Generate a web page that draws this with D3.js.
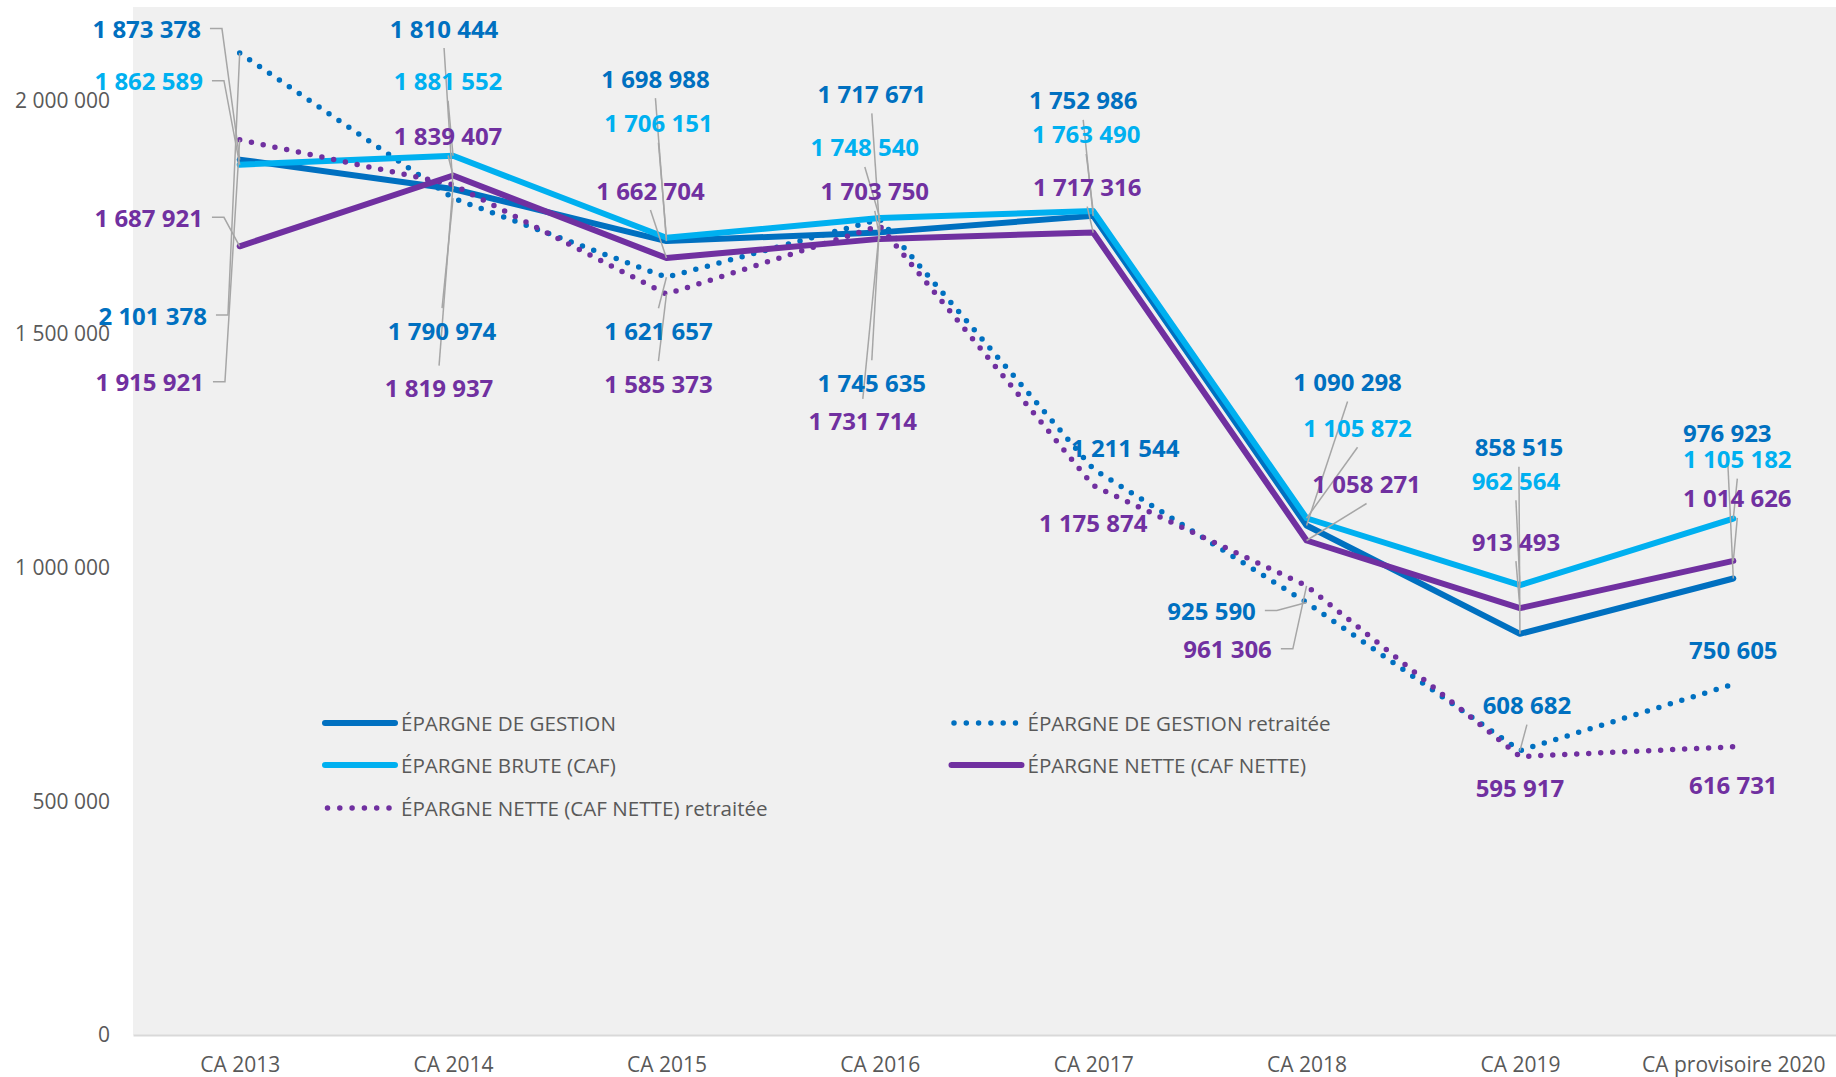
<!DOCTYPE html>
<html>
<head>
<meta charset="utf-8">
<script src="https://cdn.jsdelivr.net/npm/d3@7"></script>
<style>
  html, body { margin: 0; padding: 0; background: #ffffff; }
  svg { display: block; font-family: 'Open Sans', sans-serif; }
</style>
</head>
<body>
<script>
// ---------- DATA ----------
const categories = ["CA 2013", "CA 2014", "CA 2015", "CA 2016", "CA 2017", "CA 2018", "CA 2019", "CA provisoire 2020"];

const epargneGestion          = [1873378, 1810444, 1698988, 1717671, 1752986, 1090298, 858515, 976923];
const epargneGestionRetraitee = [2101378, 1790974, 1621657, 1745635, 1211544, 925590, 608682, 750605];
const epargneBrute            = [1862589, 1881552, 1706151, 1748540, 1763490, 1105872, 962564, 1105182];
const epargneNette            = [1687921, 1839407, 1662704, 1703750, 1717316, 1058271, 913493, 1014626];
const epargneNetteRetraitee   = [1915921, 1819937, 1585373, 1731714, 1175874, 961306, 595917, 616731];

const seriesNames = [
  "ÉPARGNE DE GESTION",
  "ÉPARGNE DE GESTION retraitée",
  "ÉPARGNE BRUTE (CAF)",
  "ÉPARGNE NETTE (CAF NETTE)",
  "ÉPARGNE NETTE (CAF NETTE) retraitée"
];

const yTicks = [0, 500000, 1000000, 1500000, 2000000];

// ---------- LABEL LAYOUT (pixel offsets of each data label from its point) ----------
const gestionLabelDx   = [-93, -9, -11, -8, -10, 41, -1, -6];
const gestionLabelDy   = [-131, -161, -163, -139, -116, -144, -187, -146];
const gestionRLabelDx  = [-87, -11, -8, -8, 32, -95, 7, 0];
const gestionRLabelDy  = [262, 132, 53, 163, -21, 8, -46, -35];
const bruteLabelDx     = [-91, -5, -8, -15, -7, 51, -4, 4];
const bruteLabelDy     = [-84, -75, -115, -71, -77, -91, -105, -60];
const netteLabelDx     = [-91, -5, -16, -5, -6, 60, -4, 4];
const netteLabelDy     = [-29, -40, -68, -48, -46, -57, -67, -63];
const netteRLabelDx    = [-90, -14, -8, -17, 0, -79, 0, 0];
const netteRLabelDy    = [242, 203, 89, 195, 37, 63, 31, 38];

// ---------- SETUP ----------
const W = 1836, H = 1077;
const plotLeft = 133, plotRight = 1840, plotTop = 7, plotBottom = 1035;

const fmt = d3.formatLocale({ decimal: ",", thousands: " ", grouping: [3], currency: ["", " €"] }).format(",d");

const series = [
  { name: seriesNames[0], values: epargneGestion,          color: "#0070C0", dotted: false, dx: gestionLabelDx,  dy: gestionLabelDy },
  { name: seriesNames[1], values: epargneGestionRetraitee, color: "#0070C0", dotted: true,  dx: gestionRLabelDx, dy: gestionRLabelDy },
  { name: seriesNames[2], values: epargneBrute,            color: "#00B0F0", dotted: false, dx: bruteLabelDx,    dy: bruteLabelDy },
  { name: seriesNames[3], values: epargneNette,            color: "#7030A0", dotted: false, dx: netteLabelDx,    dy: netteLabelDy },
  { name: seriesNames[4], values: epargneNetteRetraitee,   color: "#7030A0", dotted: true,  dx: netteRLabelDx,   dy: netteRLabelDy }
];

const svg = d3.select("body").append("svg").attr("width", W).attr("height", H);

const x = d3.scalePoint().domain(categories).range([plotLeft, plotRight]).padding(0.5);
const y = d3.scaleLinear().domain([0, 2200000]).range([plotBottom, plotTop]);

// plot area background
svg.append("rect")
  .attr("x", plotLeft).attr("y", y(2200000))
  .attr("width", plotRight - plotLeft).attr("height", y(0) - y(2200000))
  .attr("fill", "#f0f0f0");

// Y axis (labels only)
const yAxis = svg.append("g")
  .attr("transform", `translate(${plotLeft},0)`)
  .call(d3.axisLeft(y).tickValues(yTicks).tickFormat(fmt).tickSize(0).tickPadding(23));
yAxis.select(".domain").remove();
yAxis.selectAll("text")
  .attr("font-family", "'Open Sans', sans-serif")
  .attr("font-size", 21)
  .attr("fill", "#595959");

// X axis
const xAxis = svg.append("g")
  .attr("transform", `translate(0,${plotBottom})`)
  .call(d3.axisBottom(x).tickSize(0).tickSizeOuter(0).tickPadding(22));
xAxis.select(".domain").attr("stroke", "#d9d9d9").attr("stroke-width", 2);
xAxis.selectAll("text")
  .attr("font-family", "'Open Sans', sans-serif")
  .attr("font-size", 21)
  .attr("fill", "#595959");

// Lines
const line = d3.line()
  .x((d, i) => x(categories[i]))
  .y(d => y(d));

const linesG = svg.append("g");
series.forEach(s => {
  const p = linesG.append("path")
    .datum(s.values)
    .attr("d", line)
    .attr("fill", "none")
    .attr("stroke", s.color)
    .attr("stroke-width", s.dotted ? 5.5 : 6)
    .attr("stroke-linecap", "round")
    .attr("stroke-linejoin", "round");
  if (s.dotted) p.attr("stroke-dasharray", "0 12");
});

// Data labels + leader lines
const leaderG = svg.append("g");
const labelG = svg.append("g");
series.forEach(s => {
  s.values.forEach((v, i) => {
    const px = x(categories[i]), py = y(v);
    const cx = px + s.dx[i], cy = py + s.dy[i];
    const t = labelG.append("text")
      .attr("x", cx).attr("y", cy)
      .attr("text-anchor", "middle")
      .attr("dominant-baseline", "central")
      .attr("font-family", "'Open Sans', sans-serif")
      .attr("font-weight", 700)
      .attr("font-size", 24)
      .attr("fill", s.color)
      .text(fmt(v));
    const w = t.node().getComputedTextLength();
    const dist = Math.hypot(cx - px, cy - py);
    if (dist > 40) {
      let pts;
      if (Math.abs(s.dx[i]) > 60 && cx < px) {
        const sx = cx + w / 2 + 9;
        pts = [[sx, cy], [sx + 12, cy], [px, py]];
      } else if (Math.abs(s.dx[i]) > 60 && cx > px) {
        const sx = cx - w / 2 - 9;
        pts = [[sx, cy], [sx - 12, cy], [px, py]];
      } else if (cy < py) {
        pts = [[cx, cy + 20], [px, py]];
      } else {
        pts = [[cx, cy - 22], [px, py]];
      }
      leaderG.append("path")
        .attr("d", d3.line()(pts))
        .attr("fill", "none")
        .attr("stroke", "#a6a6a6")
        .attr("stroke-width", 1.5);
    }
  });
});

// Legend
const legendPos = [
  [325, 723], [951.5, 723],
  [325, 765], [951.5, 765],
  [325, 808]
];
const legendG = svg.append("g");
series.forEach((s, k) => {
  const [lx, ly] = legendPos[k];
  const seg = legendG.append("path")
    .attr("d", s.dotted ? `M${lx + 2.5},${ly}H${lx + 66}` : `M${lx},${ly}H${lx + 70}`)
    .attr("stroke", s.color)
    .attr("stroke-width", s.dotted ? 5.5 : 6)
    .attr("stroke-linecap", "round");
  if (s.dotted) seg.attr("stroke-dasharray", "0 12.3");
  legendG.append("text")
    .attr("x", lx + 76).attr("y", ly)
    .attr("dominant-baseline", "central")
    .attr("font-family", "'Open Sans', sans-serif")
    .attr("font-size", 20.6)
    .attr("fill", "#595959")
    .text(s.name);
});
</script>
</body>
</html>
